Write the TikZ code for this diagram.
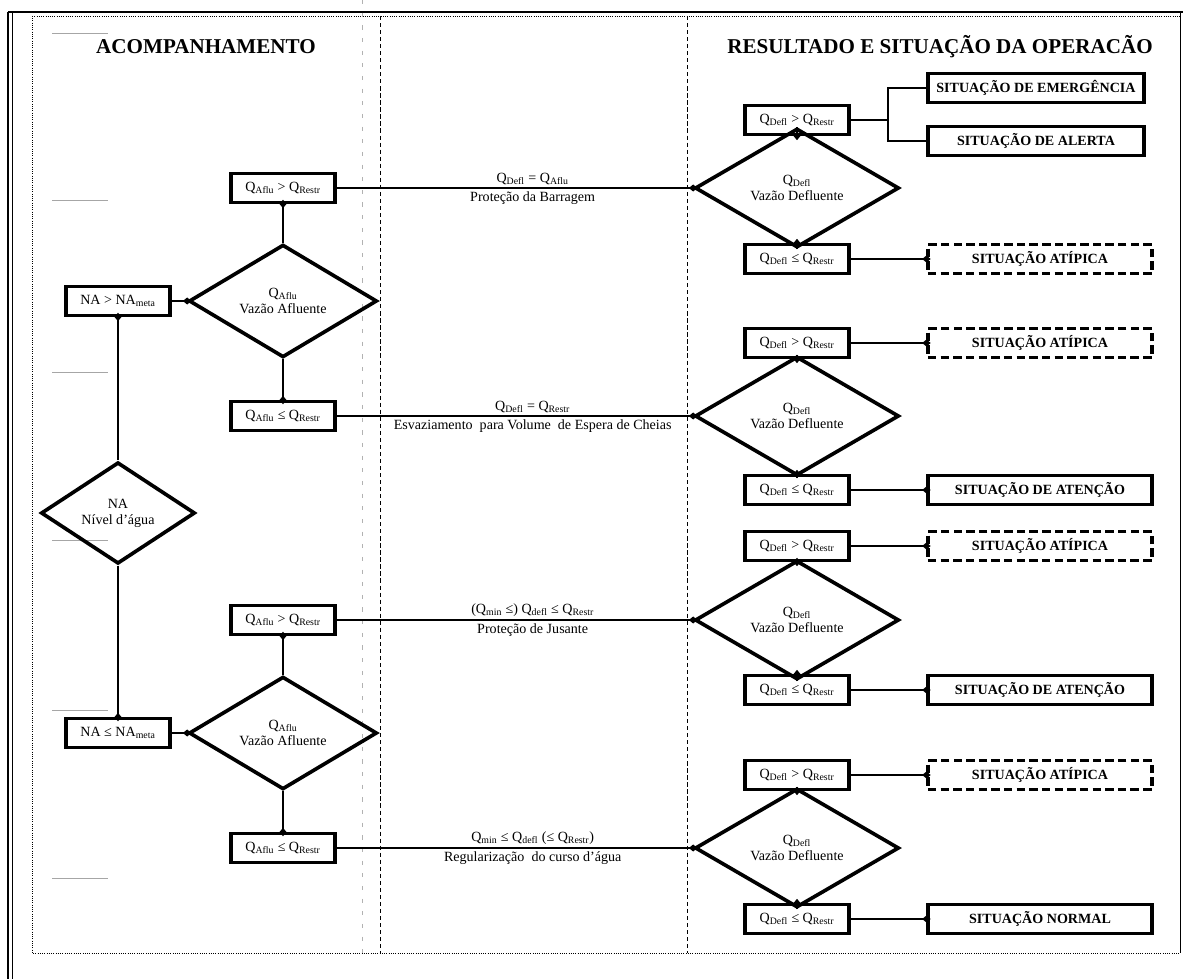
\documentclass[tikz,border=0pt]{standalone}
\usepackage{fontspec}
\setmainfont{Liberation Serif}
\usetikzlibrary{arrows.meta, shapes.geometric}
\newcommand{\Qs}[1]{Q\textsubscript{#1}}

\begin{document}
\begin{tikzpicture}[x=0.025cm, y=-0.025cm,
  caixa/.style={draw, line width=2.2pt, minimum width=2.6cm, minimum height=0.72cm, inner sep=1pt, font=\fontsize{10}{12}\selectfont},
  decisao/.style={draw, diamond, line width=2.6pt, align=center, inner sep=0pt, font=\fontsize{10}{11.5}\selectfont},
  situacao/.style={draw, line width=2.2pt, minimum height=0.72cm, font=\fontsize{10}{12}\selectfont\bfseries},
  atipica/.style={situacao, dash pattern=on 6pt off 3pt},
  titulo/.style={font=\fontsize{15}{18}\selectfont\bfseries},
  rotulo/.style={font=\fontsize{10}{12}\selectfont, inner sep=2pt},
  liga/.style={line width=1pt},
  fim/.style={-{Diamond[length=6pt,width=5pt]}, shorten >=-3pt},
  ini/.style={{Diamond[length=6pt,width=5pt]}-, shorten <=-3pt},
  marca/.style={gray!70, line width=0.6pt}]
\useasboundingbox (0,0) rectangle (1183,979);
\draw [line width=1.4pt] (8,12) -- (1183,12);
\draw [line width=1pt] (8,12) -- (8,979);
\draw [line width=0.7pt] (12,12) -- (12,979);
\draw [densely dotted, line width=0.6pt] (32,16) -- (1180,16);
\draw [densely dotted, line width=0.6pt] (32,16) -- (32,953) -- (1180,953);
\draw [line width=0.7pt] (1180,12) -- (1180,953);
\draw [densely dashed, line width=0.5pt] (380,16) -- (380,953);
\draw [densely dashed, line width=0.5pt] (687,16) -- (687,953);
\draw [gray!60, dash pattern=on 3pt off 6pt] (362,0) -- (362,960);
\draw [marca] (52,33) -- (108,33);
\draw [marca] (52,200) -- (108,200);
\draw [marca] (52,372) -- (108,372);
\draw [marca] (52,540) -- (108,540);
\draw [marca] (52,710) -- (108,710);
\draw [marca] (52,878) -- (108,878);
\node (tituloA) at (206,47) [titulo] {ACOMPANHAMENTO};
\node (tituloB) at (940,47) [titulo] {RESULTADO E SITUAÇÃO DA OPERACÃO};
\node (naMaior) at (118,301) [caixa] {NA > NA\textsubscript{meta}};
\node (naDec) at (118,513) [decisao, minimum width=3.85cm, minimum height=2.2cm] {NA\\Nível d'água};
\node (naMenor) at (118,733) [caixa] {NA ≤ NA\textsubscript{meta}};
\node (afluMaiorA) at (283,188) [caixa] {\Qs{Aflu} > \Qs{Restr}};
\node (vafA) at (283,301) [decisao, minimum width=4.7cm, minimum height=2.15cm] {\Qs{Aflu}\\Vazão Afluente};
\node (afluMenorA) at (283,416) [caixa] {\Qs{Aflu} ≤ \Qs{Restr}};
\node (afluMaiorB) at (283,620) [caixa] {\Qs{Aflu} > \Qs{Restr}};
\node (vafB) at (283,733) [decisao, minimum width=4.7cm, minimum height=2.15cm] {\Qs{Aflu}\\Vazão Afluente};
\node (afluMenorB) at (283,848) [caixa] {\Qs{Aflu} ≤ \Qs{Restr}};
\node (deflMaiorA) at (797,120) [caixa] {\Qs{Defl} > \Qs{Restr}};
\node (vdefA) at (797,188) [decisao, minimum width=5.1cm, minimum height=2.2cm] {\Qs{Defl}\\Vazão Defluente};
\node (deflMenorA) at (797,259) [caixa] {\Qs{Defl} ≤ \Qs{Restr}};
\node (deflMaiorB) at (797,343) [caixa] {\Qs{Defl} > \Qs{Restr}};
\node (vdefB) at (797,416) [decisao, minimum width=5.1cm, minimum height=2.2cm] {\Qs{Defl}\\Vazão Defluente};
\node (deflMenorB) at (797,490) [caixa] {\Qs{Defl} ≤ \Qs{Restr}};
\node (deflMaiorC) at (797,546) [caixa] {\Qs{Defl} > \Qs{Restr}};
\node (vdefC) at (797,620) [decisao, minimum width=5.1cm, minimum height=2.2cm] {\Qs{Defl}\\Vazão Defluente};
\node (deflMenorC) at (797,690) [caixa] {\Qs{Defl} ≤ \Qs{Restr}};
\node (deflMaiorD) at (797,775) [caixa] {\Qs{Defl} > \Qs{Restr}};
\node (vdefD) at (797,848) [decisao, minimum width=5.1cm, minimum height=2.2cm] {\Qs{Defl}\\Vazão Defluente};
\node (deflMenorD) at (797,919) [caixa] {\Qs{Defl} ≤ \Qs{Restr}};
\node (emerg) at (1036,88) [situacao, minimum width=5.4cm] {SITUAÇÃO DE EMERGÊNCIA};
\node (alerta) at (1036,141) [situacao, minimum width=5.4cm] {SITUAÇÃO DE ALERTA};
\node (atipA) at (1040,259) [atipica, minimum width=5.6cm] {SITUAÇÃO ATÍPICA};
\node (atipB) at (1040,343) [atipica, minimum width=5.6cm] {SITUAÇÃO ATÍPICA};
\node (atencaoB) at (1040,490) [situacao, minimum width=5.6cm] {SITUAÇÃO DE ATENÇÃO};
\node (atipC) at (1040,546) [atipica, minimum width=5.6cm] {SITUAÇÃO ATÍPICA};
\node (atencaoC) at (1040,690) [situacao, minimum width=5.6cm] {SITUAÇÃO DE ATENÇÃO};
\node (atipD) at (1040,775) [atipica, minimum width=5.6cm] {SITUAÇÃO ATÍPICA};
\node (normal) at (1040,919) [situacao, minimum width=5.6cm] {SITUAÇÃO NORMAL};
\coordinate (ramo) at (888,120);
\draw [liga, ini] (naMaior.south) -- (naDec.north);
\draw [liga, fim] (naDec.south) -- (naMenor.north);
\draw [liga, fim] (naMaior.east) -- (vafA.west);
\draw [liga, fim] (naMenor.east) -- (vafB.west);
\draw [liga, ini] (afluMaiorA.south) -- (vafA.north);
\draw [liga, fim] (vafA.south) -- (afluMenorA.north);
\draw [liga, ini] (afluMaiorB.south) -- (vafB.north);
\draw [liga, fim] (vafB.south) -- (afluMenorB.north);
\draw [liga, fim] (afluMaiorA.east) -- (vdefA.west)
  node (regraA) [pos=0.55, above, rotulo] {\Qs{Defl} = \Qs{Aflu}}
  node (acaoA) [pos=0.55, below, rotulo] {Proteção da Barragem};
\draw [liga, fim] (afluMenorA.east) -- (vdefB.west)
  node (regraB) [pos=0.55, above, rotulo] {\Qs{Defl} = \Qs{Restr}}
  node (acaoB) [pos=0.55, below, rotulo] {Esvaziamento\ \ para Volume\ \ de Espera de Cheias};
\draw [liga, fim] (afluMaiorB.east) -- (vdefC.west)
  node (regraC) [pos=0.55, above, rotulo] {(\Qs{min} ≤) \Qs{defl} ≤ \Qs{Restr}}
  node (acaoC) [pos=0.55, below, rotulo] {Proteção de Jusante};
\draw [liga, fim] (afluMenorB.east) -- (vdefD.west)
  node (regraD) [pos=0.55, above, rotulo] {\Qs{min} ≤ \Qs{defl} (≤ \Qs{Restr})}
  node (acaoD) [pos=0.55, below, rotulo] {Regularização\ \ do curso d'água};
\draw [liga, ini] (deflMaiorA.south) -- (vdefA.north);
\draw [liga, fim] (vdefA.south) -- (deflMenorA.north);
\draw [liga, ini] (deflMaiorB.south) -- (vdefB.north);
\draw [liga, fim] (vdefB.south) -- (deflMenorB.north);
\draw [liga, ini] (deflMaiorC.south) -- (vdefC.north);
\draw [liga, fim] (vdefC.south) -- (deflMenorC.north);
\draw [liga, ini] (deflMaiorD.south) -- (vdefD.north);
\draw [liga, fim] (vdefD.south) -- (deflMenorD.north);
\draw [liga] (deflMaiorA.east) -- (ramo);
\draw [liga] (emerg.west) -| (ramo) |- (alerta.west);
\draw [liga, fim] (deflMenorA.east) -- (atipA.west);
\draw [liga, fim] (deflMaiorB.east) -- (atipB.west);
\draw [liga, fim] (deflMenorB.east) -- (atencaoB.west);
\draw [liga, fim] (deflMaiorC.east) -- (atipC.west);
\draw [liga, fim] (deflMenorC.east) -- (atencaoC.west);
\draw [liga, fim] (deflMaiorD.east) -- (atipD.west);
\draw [liga, fim] (deflMenorD.east) -- (normal.west);
\end{tikzpicture}
\end{document}
